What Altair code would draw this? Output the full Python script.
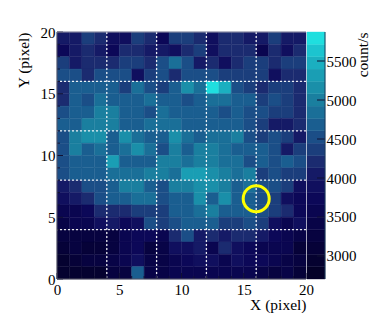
import altair as alt
import pandas as pd

# rows listed from y=19 (top) down to y=0
V = [
 [4000,4000,4300,4150,3900,3900,4300,4150,3750,4300,4400,4150,3950,4250,4250,4000,4000,4400,4000,4000],
 [3700,4000,4250,4000,3750,4250,4250,4000,4000,3950,4200,4350,3950,4250,4250,4250,3650,4150,3900,4150],
 [4300,4000,4250,4250,4250,4300,4300,4250,4450,4800,4600,4000,4150,3850,4200,4400,4400,4200,4400,4400],
 [4500,4500,4250,4450,4500,4500,3950,4350,4500,4150,4450,4450,4500,4350,4350,4400,4350,3900,4250,4250],
 [4250,4700,4700,4700,4700,4400,4850,4450,4400,4700,5100,4800,5750,5400,4600,4400,4200,4400,4400,4250],
 [4200,4700,4450,4850,4700,4700,4700,4850,4700,4700,4450,4650,4800,4800,4650,4650,4400,4600,4400,4250],
 [4450,4700,4700,5050,4950,4700,4700,4600,4800,4650,4650,4650,4700,4450,4700,4450,4600,4400,4400,4200],
 [4650,4650,5000,5000,5050,4750,4750,4800,4800,4800,4700,4700,4750,4650,4750,4600,4300,4000,4000,4250],
 [4600,5000,5150,5100,4700,5100,4900,4650,4650,5150,4900,4650,4900,4900,4950,4600,4350,4600,4400,4000],
 [4450,4950,4700,4800,4700,4900,5150,4800,4550,4950,4650,4950,4950,4800,4650,4650,4650,4450,4000,4350],
 [4600,4700,4700,4700,5250,4700,4700,4700,5000,5050,4850,5000,5000,4850,4850,4600,4700,4450,4700,4450],
 [4450,4700,4650,4650,4800,4800,4800,5000,5050,4850,5250,5350,5150,5050,4800,4950,4400,4600,4300,4300],
 [4000,4250,4500,4500,4700,5000,5000,4750,4600,5050,5000,5200,5150,4950,4650,4800,4600,4500,4300,3950],
 [3850,4000,4250,4450,4650,4650,4850,4800,4600,4700,4750,5150,4750,5150,4750,4650,4550,4300,3950,3750],
 [3650,3650,3700,4200,4150,4200,4300,4300,4350,4700,4700,4850,4950,4650,4650,4650,4600,4300,4150,3750],
 [3450,3500,3650,3950,4000,3700,3850,4450,4400,4500,4700,4700,4650,4300,4300,4600,4400,3900,3600,3900],
 [3200,3200,3300,3300,3300,3600,3700,3700,3650,4250,4500,4000,4200,4000,4200,4150,4000,3700,3600,3350],
 [3100,3300,3150,3150,3200,3500,3700,3300,3450,3900,3850,4000,3600,4200,3850,3700,3550,3550,3500,3150],
 [2950,3100,3200,3300,3350,3500,3900,3400,3450,3600,3700,3850,3900,3600,3850,3750,3700,3500,3450,3200],
 [2950,3000,2950,3000,3250,3300,4650,3350,3400,3500,3500,3600,3600,3500,3500,3500,3400,3300,3350,3150],
]
palette = ["#040128","#050230","#060238","#070340","#080447","#0a0650","#0c0858","#100f5e",
           "#151a66","#1b2b70","#1b3e7c","#1b4e87","#1a5e90","#1a6f98","#1a7f9f","#1a8fa9",
           "#1a9eb4","#1bafc0","#1cc4cf","#1fdfdf"]
zmin, zmax = 2705, 5872
grid_x = [4, 8, 12, 16]
grid_y = [4, 8, 12, 16]
major = [0, 5, 10, 15, 20]
minor = [i for i in range(21) if i % 5]
bar_ticks = [3000, 3500, 4000, 4500, 5000, 5500]
marker = [{"x": 16, "y": 6.5}]

cells = [{"x": c, "x2": c + 1, "y": 19 - r, "y2": 20 - r, "v": v}
         for r, row in enumerate(V) for c, v in enumerate(row)]
n = len(palette)
edges = [zmin + (zmax - zmin) * i / n for i in range(n + 1)]
bands = [{"lo": edges[i], "hi": edges[i + 1], "v": (edges[i] + edges[i + 1]) / 2} for i in range(n)]

W, H = 249, 247
FONT = "Liberation Serif"
color_scale = alt.Scale(type="quantize", domain=[zmin, zmax], range=palette)
sx = alt.Scale(domain=[0, 20], nice=False)
sy = alt.Scale(domain=[0, 20], nice=False)

heat = alt.Chart(pd.DataFrame(cells)).mark_rect(strokeWidth=0.4).encode(
    x=alt.X("x:Q", scale=sx, axis=alt.Axis(
        title="X (pixel)", values=major, format="d", grid=False, ticks=False, domain=False,
        titleAnchor="end", titlePadding=0, labelPadding=3, labelFlush=False, labelOverlap=False)),
    x2="x2:Q",
    y=alt.Y("y:Q", scale=sy, axis=alt.Axis(
        title="Y (pixel)", values=major, format="d", grid=False, ticks=False, domain=False,
        titleAnchor="end", titlePadding=9, labelPadding=2, labelFlush=False, labelOverlap=False)),
    y2="y2:Q",
    color=alt.Color("v:Q", scale=color_scale, legend=None),
    stroke=alt.Color("v:Q", scale=color_scale, legend=None),
)
vgrid = alt.Chart(pd.DataFrame({"g": grid_x})).mark_rule(color="#ffffff", strokeWidth=1.3, strokeDash=[2, 2], opacity=0.9).encode(x=alt.X("g:Q", scale=sx))
hgrid = alt.Chart(pd.DataFrame({"g": grid_y})).mark_rule(color="#ffffff", strokeWidth=1.3, strokeDash=[2, 2], opacity=0.9).encode(y=alt.Y("g:Q", scale=sy))
def xt(vals, ln):
    return alt.Chart(pd.DataFrame({"t": vals})).mark_rule(color="#111133", strokeWidth=1).encode(
        x=alt.X("t:Q", scale=sx), y=alt.value(H), y2=alt.value(H - ln))
def yt(vals, ln):
    return alt.Chart(pd.DataFrame({"t": vals})).mark_rule(color="#111133", strokeWidth=1).encode(
        y=alt.Y("t:Q", scale=sy), x=alt.value(0), x2=alt.value(ln))
bottom = alt.Chart(pd.DataFrame({"a": [0]})).mark_rule(color="#555566", strokeWidth=1).encode(
    y=alt.value(H), x=alt.value(0), x2=alt.value(W))
left = alt.Chart(pd.DataFrame({"a": [0]})).mark_rule(color="#555566", strokeWidth=1).encode(
    x=alt.value(0), y=alt.value(0), y2=alt.value(H))
top = alt.Chart(pd.DataFrame({"a": [0]})).mark_rule(color="#9999aa", strokeWidth=1).encode(
    y=alt.value(0), x=alt.value(0), x2=alt.value(W))
circle = alt.Chart(pd.DataFrame(marker)).mark_point(
    shape="circle", filled=False, color="#ffff00", size=676, strokeWidth=3, opacity=1
).encode(x=alt.X("x:Q", scale=sx), y=alt.Y("y:Q", scale=sy))

main = alt.layer(heat, vgrid, hgrid, xt(major, 6), xt(minor, 3), yt(major, 6), yt(minor, 3), bottom, left, top, circle).properties(width=W, height=H)

barscale = alt.Scale(domain=[zmin, zmax], nice=False, zero=False)
bar_rect = alt.Chart(pd.DataFrame(bands)).mark_rect(strokeWidth=0.4).encode(
    y=alt.Y("lo:Q", scale=barscale, axis=alt.Axis(
        orient="right", title="count/s", values=bar_ticks, format="d", grid=False, ticks=False,
        domain=False, labelPadding=1, titleAngle=270, titleAlign="right", titleBaseline="middle",
        titleX=37, titleY=0, labelOverlap=False)),
    y2="hi:Q",
    color=alt.Color("v:Q", scale=color_scale, legend=None),
    stroke=alt.Color("v:Q", scale=color_scale, legend=None),
)
bar_tick = alt.Chart(pd.DataFrame({"t": bar_ticks})).mark_rule(color="#111133", strokeWidth=1).encode(
    y=alt.Y("t:Q", scale=barscale), x=alt.value(18), x2=alt.value(10))
bar_edge = alt.Chart(pd.DataFrame({"a": [0]})).mark_rule(color="#1a3a5a", strokeWidth=1).encode(
    x=alt.value(18), y=alt.value(0), y2=alt.value(H))
bar = alt.layer(bar_rect, bar_tick, bar_edge).properties(width=18, height=H)

chart = alt.hconcat(main, bar, spacing=1, bounds="flush").resolve_scale(color="independent").properties(
    padding={"left": 8, "top": 17, "right": 0, "bottom": 0}
).configure_view(stroke=None).configure_axis(
    labelFont=FONT, titleFont=FONT, labelFontSize=15, titleFontSize=15.5,
    labelColor="#000000", titleColor="#000000", titleFontWeight="normal"
)
chart.save("out.html", embed_options={"renderer": "svg", "actions": False})
